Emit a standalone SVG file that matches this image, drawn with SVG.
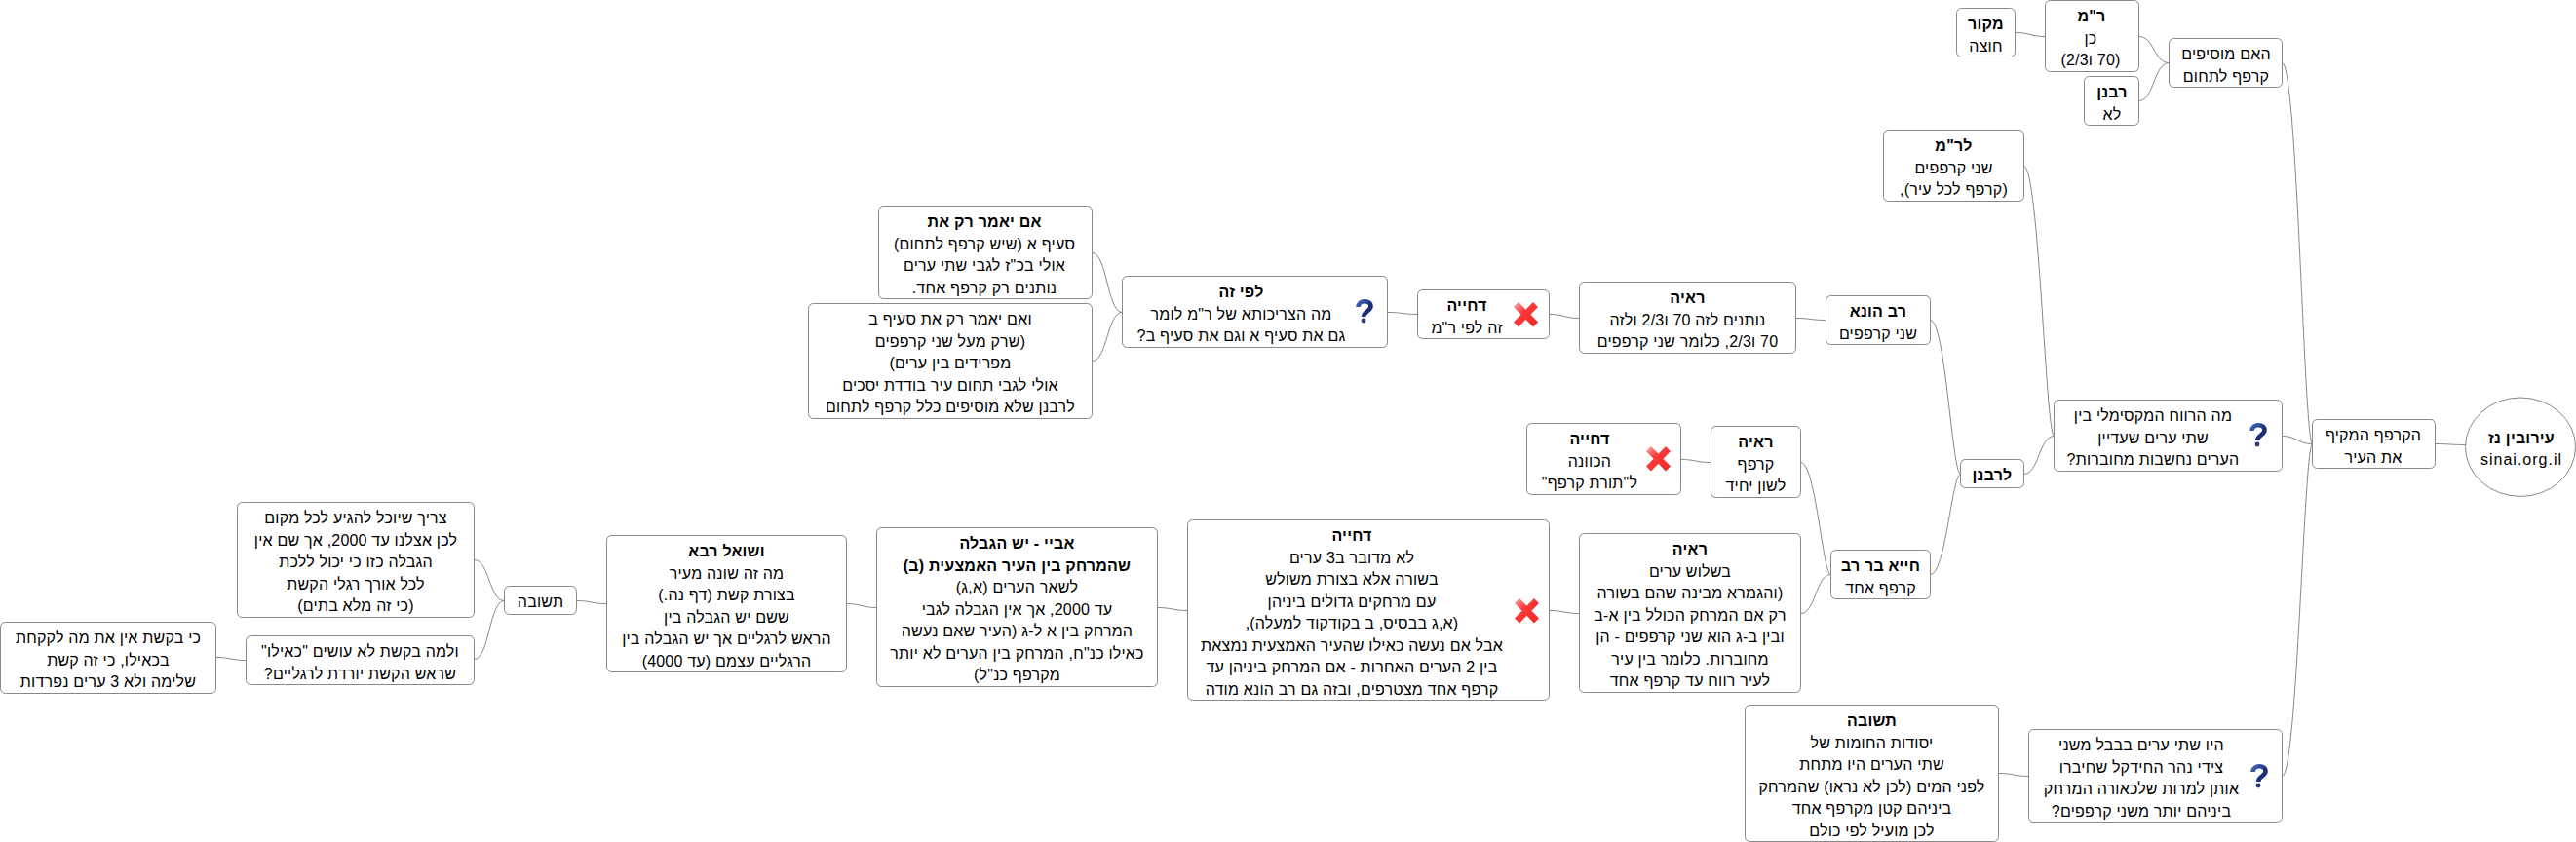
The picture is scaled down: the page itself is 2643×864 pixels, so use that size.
<svg xmlns="http://www.w3.org/2000/svg" width="2643" height="864" viewBox="0 0 2643 864">
<style>
text{font-family:"Liberation Sans",Arial,sans-serif;font-size:16px;fill:#000;text-anchor:middle;direction:rtl;letter-spacing:.2px}
.b{font-weight:bold}
.s{direction:ltr;letter-spacing:1px}
rect,ellipse{fill:#fff;stroke:#888;stroke-width:1}
#connectors path{fill:none;stroke:#888;stroke-width:1}
</style>
<defs>
<linearGradient id="qg" x1="0" y1="0" x2="1" y2="1"><stop offset="0" stop-color="#3f66b8"/><stop offset="0.6" stop-color="#1a2c78"/><stop offset="1" stop-color="#26347a"/></linearGradient>
<linearGradient id="xg" gradientUnits="userSpaceOnUse" x1="0" y1="0" x2="24" y2="24"><stop offset="0" stop-color="#fbb0b0"/><stop offset="0.4" stop-color="#fb3a3a"/><stop offset="1" stop-color="#f02828"/></linearGradient>
<g id="q"><path d="M2.5,8 C2.5,1 15.5,0 15.5,7.5 C15.5,12 8.5,12.5 8,18" fill="none" stroke="url(#qg)" stroke-width="4.6"/><circle cx="8" cy="22" r="2.4" fill="#2c3a7c"/></g>
<g id="x"><path d="M2.5,2.5 L22.5,23 M22.5,2.5 L2.5,23" fill="none" stroke="url(#xg)" stroke-width="7"/></g>
</defs>
<g id="connectors">
<path d="M2067.5,33.5 C2083,33.5 2083,37.5 2098.5,37.5"/>
<path d="M2194.5,37.5 C2210,37.5 2210,64.5 2225.5,64.5"/>
<path d="M2194.5,103.5 C2210,103.5 2210,64.5 2225.5,64.5"/>
<path d="M2341.5,64.5 C2357,64.5 2364,455.5 2372.5,455.5"/>
<path d="M2341.5,447.5 C2357,447.5 2357,455.5 2372.5,455.5"/>
<path d="M2341.5,796.5 C2357,796.5 2364,455.5 2372.5,455.5"/>
<path d="M2498.5,455.5 C2514,455.5 2514,456.5 2530,456.5"/>
<path d="M2076.5,170.5 C2092,170.5 2099,447.5 2107.5,447.5"/>
<path d="M2076.5,486.5 C2092,486.5 2092,447.5 2107.5,447.5"/>
<path d="M1980.5,328.5 C1996,328.5 2003,486.5 2011.5,486.5"/>
<path d="M1980.5,589.5 C1996,589.5 2003,486.5 2011.5,486.5"/>
<path d="M1842.5,326.5 C1858,326.5 1858,328.5 1873.5,328.5"/>
<path d="M1589.5,322.5 C1605,322.5 1605,326.5 1620.5,326.5"/>
<path d="M1423.5,320.5 C1439,320.5 1439,322.5 1454.5,322.5"/>
<path d="M1120.5,259.5 C1136,259.5 1136,320.5 1151.5,320.5"/>
<path d="M1120.5,370.5 C1136,370.5 1136,320.5 1151.5,320.5"/>
<path d="M1847.5,474.5 C1863,474.5 1870,589.5 1878.5,589.5"/>
<path d="M1724.5,471.5 C1740,471.5 1740,474.5 1755.5,474.5"/>
<path d="M1847.5,629.5 C1863,629.5 1863,589.5 1878.5,589.5"/>
<path d="M1589.5,626.5 C1605,626.5 1605,629.5 1620.5,629.5"/>
<path d="M1187.5,623.5 C1203,623.5 1203,626.5 1218.5,626.5"/>
<path d="M868.5,619.5 C884,619.5 884,623.5 899.5,623.5"/>
<path d="M591.5,616.5 C607,616.5 607,619.5 622.5,619.5"/>
<path d="M486.5,574.5 C502,574.5 502,616.5 517.5,616.5"/>
<path d="M486.5,676.5 C502,676.5 502,616.5 517.5,616.5"/>
<path d="M221.5,674.5 C237,674.5 237,677.5 252.5,677.5"/>
<path d="M2050.5,793.5 C2066,793.5 2066,796.5 2081.5,796.5"/>
</g>
<g id="root"><ellipse cx="2586" cy="458.7" rx="56.5" ry="50.7"/><text class="b" x="2587" y="455">עירובין נז</text><text class="s" x="2587" y="477">sinai.org.il</text></g>
<g id="n1"><rect x="2372.5" y="430.5" width="126" height="50" rx="5"/><text x="2435" y="452">הקרפף המקיף</text><text x="2435" y="474.5">את העיר</text></g>
<g id="n2"><rect x="2225.5" y="39.5" width="116" height="50" rx="5"/><text x="2284" y="61">האם מוסיפים</text><text x="2284" y="83.5">קרפף לתחום</text></g>
<g id="n3"><rect x="2098.5" y="0.5" width="96" height="73" rx="5"/><text class="b" x="2146" y="22">ר"מ</text><text x="2145" y="44.5">כן</text><text x="2145" y="67">(70 ו2/3)</text></g>
<g id="n4"><rect x="2007.5" y="8.5" width="60" height="50" rx="5"/><text class="b" x="2037.5" y="30">מקור</text><text x="2037.5" y="52.5">חוצה</text></g>
<g id="n5"><rect x="2138.5" y="78.5" width="56" height="50" rx="5"/><text class="b" x="2167" y="100">רבנן</text><text x="2167" y="122.5">לא</text></g>
<g id="n6"><rect x="2107.5" y="410.5" width="234" height="73" rx="5"/><text x="2209" y="432">מה הרווח המקסימלי בין</text><text x="2209" y="454.5">שתי ערים שעדיין</text><text x="2209" y="477">הערים נחשבות מחוברות?</text><use href="#q" x="2308" y="434"/></g>
<g id="n7"><rect x="1932.5" y="133.5" width="144" height="73" rx="5"/><text class="b" x="2004.5" y="155">לר"מ</text><text x="2004.5" y="177.5">שני קרפפים</text><text x="2004.5" y="200">(קרפף לכל עיר),</text></g>
<g id="n8"><rect x="2011.5" y="471.5" width="65" height="29" rx="5"/><text class="b" x="2044" y="493">לרבנן</text></g>
<g id="n9"><rect x="1873.5" y="303.5" width="107" height="50" rx="5"/><text class="b" x="1927" y="325">רב הונא</text><text x="1927" y="347.5">שני קרפפים</text></g>
<g id="n10"><rect x="1620.5" y="289.5" width="222" height="73" rx="5"/><text class="b" x="1731.5" y="311">ראיה</text><text x="1731.5" y="333.5">נותנים לזה 70 ו2/3 ולזה</text><text x="1731.5" y="356">70 ו2/3, כלומר שני קרפפים</text></g>
<g id="n11"><rect x="1454.5" y="297.5" width="135" height="50" rx="5"/><text class="b" x="1505" y="319">דחייה</text><text x="1505" y="341.5">זה לפי ר"מ</text><use href="#x" x="1553" y="310"/></g>
<g id="n12"><rect x="1151.5" y="283.5" width="272" height="73" rx="5"/><text class="b" x="1273.5" y="305">לפי זה</text><text x="1273.5" y="327.5">מה הצריכותא של ר"מ לומר</text><text x="1273.5" y="350">גם את סעיף א וגם את סעיף ב?</text><use href="#q" x="1391" y="307"/></g>
<g id="n13"><rect x="901.5" y="211.5" width="219" height="95" rx="5"/><text class="b" x="1010" y="233">אם יאמר רק את</text><text x="1010" y="255.5">סעיף א (שיש קרפף לתחום)</text><text x="1010" y="278">אולי בכ"ז לגבי שתי ערים</text><text x="1010" y="300.5">נותנים רק קרפף אחד.</text></g>
<g id="n14"><rect x="829.5" y="311.5" width="291" height="118" rx="5"/><text x="975" y="333">ואם יאמר רק את סעיף ב</text><text x="975" y="355.5">(שרק מעל שני קרפפים</text><text x="975" y="378">מפרידים בין ערים)</text><text x="975" y="400.5">אולי לגבי תחום עיר בודדת יסכים</text><text x="975" y="423">לרבנן שלא מוסיפים כלל קרפף לתחום</text></g>
<g id="n15"><rect x="1878.5" y="564.5" width="102" height="50" rx="5"/><text class="b" x="1929.5" y="586">חייא בר רב</text><text x="1929.5" y="608.5">קרפף אחד</text></g>
<g id="n16"><rect x="1755.5" y="437.5" width="92" height="73" rx="5"/><text class="b" x="1801.5" y="459">ראיה</text><text x="1801.5" y="481.5">קרפף</text><text x="1801.5" y="504">לשון יחיד</text></g>
<g id="n17"><rect x="1566.5" y="434.5" width="158" height="73" rx="5"/><text class="b" x="1631" y="456">דחייה</text><text x="1631" y="478.5">הכוונה</text><text x="1631" y="501">ל"תורת קרפף"</text><use href="#x" x="1689" y="458"/></g>
<g id="n18"><rect x="1620.5" y="547.5" width="227" height="163" rx="5"/><text class="b" x="1734" y="569">ראיה</text><text x="1734" y="591.5">בשלוש ערים</text><text x="1734" y="614">(והגמרא מבינה שהם בשורה</text><text x="1734" y="636.5">רק אם המרחק הכולל בין א-ב</text><text x="1734" y="659">ובין ב-ג הוא שני קרפפים - הן</text><text x="1734" y="681.5">מחוברות. כלומר בין עיר</text><text x="1734" y="704">לעיר רווח עד קרפף אחד</text></g>
<g id="n19"><rect x="1218.5" y="533.5" width="371" height="185" rx="5"/><text class="b" x="1387" y="555">דחייה</text><text x="1387" y="577.5">לא מדובר ב3 ערים</text><text x="1387" y="600">בשורה אלא בצורת משולש</text><text x="1387" y="622.5">עם מרחקים גדולים ביניהן</text><text x="1387" y="645">(א,ג בבסיס, ב בקודקוד למעלה),</text><text x="1387" y="667.5">אבל אם נעשה כאילו שהעיר האמצעית נמצאת</text><text x="1387" y="690">בין 2 הערים האחרות - אם המרחק ביניהן עד</text><text x="1387" y="712.5">קרפף אחד מצטרפים, ובזה גם רב הונא מודה</text><use href="#x" x="1554" y="614"/></g>
<g id="n20"><rect x="899.5" y="541.5" width="288" height="163" rx="5"/><text class="b" x="1043.5" y="563">אביי - יש הגבלה</text><text class="b" x="1043.5" y="585.5">שהמרחק בין העיר האמצעית (ב)</text><text x="1043.5" y="608">לשאר הערים (א,ג)</text><text x="1043.5" y="630.5">עד 2000, אך אין הגבלה לגבי</text><text x="1043.5" y="653">המרחק בין א ל-ג (העיר שאם נעשה</text><text x="1043.5" y="675.5">כאילו כנ"ח, המרחק בין הערים לא יותר</text><text x="1043.5" y="698">מקרפף כנ"ל)</text></g>
<g id="n21"><rect x="622.5" y="549.5" width="246" height="140" rx="5"/><text class="b" x="745.5" y="571">ושואל רבא</text><text x="745.5" y="593.5">מה זה שונה מעיר</text><text x="745.5" y="616">בצורת קשת (דף נה.)</text><text x="745.5" y="638.5">ששם יש הגבלה בין</text><text x="745.5" y="661">הראש לרגליים אך יש הגבלה בין</text><text x="745.5" y="683.5">הרגליים עצמם (עד 4000)</text></g>
<g id="n22"><rect x="517.5" y="601.5" width="74" height="29" rx="5"/><text x="554.5" y="623">תשובה</text></g>
<g id="n23"><rect x="243.5" y="515.5" width="243" height="118" rx="5"/><text x="365" y="537">צריך שיוכל להגיע לכל מקום</text><text x="365" y="559.5">לכן אצלנו עד 2000, אך שם אין</text><text x="365" y="582">הגבלה כזו כי יכול ללכת</text><text x="365" y="604.5">לכל אורך רגלי הקשת</text><text x="365" y="627">(כי זה מלא בתים)</text></g>
<g id="n24"><rect x="252.5" y="652.5" width="234" height="50" rx="5"/><text x="369.5" y="674">ולמה בקשת לא עושים "כאילו"</text><text x="369.5" y="696.5">שראש הקשת יורדת לרגליים?</text></g>
<g id="n25"><rect x="0.5" y="638.5" width="221" height="73" rx="5"/><text x="111" y="660">כי בקשת אין את מה לקקחת</text><text x="111" y="682.5">בכאילו, כי זה קשת</text><text x="111" y="705">שלימה ולא 3 ערים נפרדות</text></g>
<g id="n26"><rect x="2081.5" y="748.5" width="260" height="95" rx="5"/><text x="2197" y="770">היו שתי ערים בבבל משני</text><text x="2197" y="792.5">צידי נהר החידקל שחיברו</text><text x="2197" y="815">אותן למרות שלכאורה המרחק</text><text x="2197" y="837.5">ביניהם יותר משני קרפפים?</text><use href="#q" x="2309" y="784"/></g>
<g id="n27"><rect x="1790.5" y="723.5" width="260" height="140" rx="5"/><text class="b" x="1920.5" y="745">תשובה</text><text x="1920.5" y="767.5">יסודות החומות של</text><text x="1920.5" y="790">שתי הערים היו מתחת</text><text x="1920.5" y="812.5">לפני המים (לכן לא נראו) שהמרחק</text><text x="1920.5" y="835">ביניהם קטן מקרפף אחד</text><text x="1920.5" y="857.5">לכן מועיל לפי כולם</text></g>
</svg>
